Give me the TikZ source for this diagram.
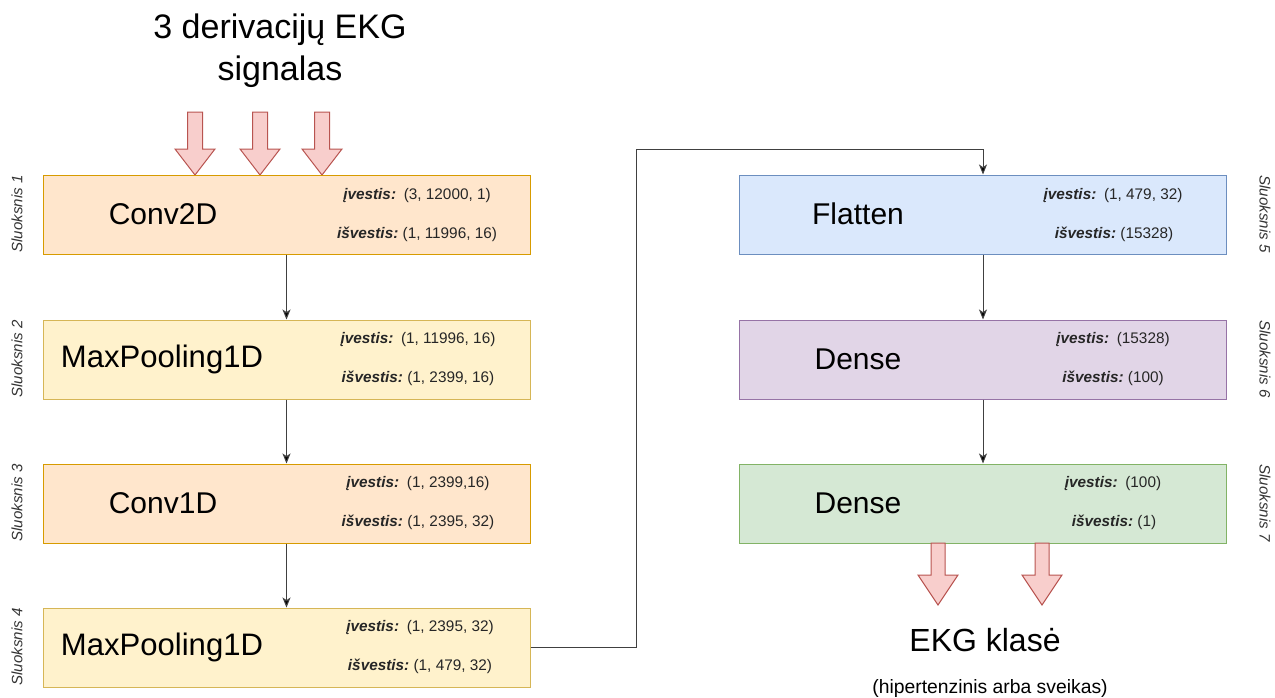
\documentclass[tikz,border=0pt]{standalone}
\usepackage{fontspec}
\setmainfont{Liberation Sans}
\usepackage{xcolor}
\usetikzlibrary{arrows.meta}

\definecolor{convfill}{HTML}{FFE6CC}
\definecolor{convline}{HTML}{D79B00}
\definecolor{poolfill}{HTML}{FFF2CC}
\definecolor{poolline}{HTML}{D6B656}
\definecolor{flatfill}{HTML}{DAE8FC}
\definecolor{flatline}{HTML}{6C8EBF}
\definecolor{densefill}{HTML}{E1D5E7}
\definecolor{denseline}{HTML}{9673A6}
\definecolor{outfill}{HTML}{D5E8D4}
\definecolor{outline}{HTML}{82B366}
\definecolor{arrfill}{HTML}{F8CECC}
\definecolor{arrline}{HTML}{B85450}

\tikzset{
  layer/.style={rectangle, minimum width=365.25pt, minimum height=59.25pt, inner sep=0pt, line width=0.75pt},
  lname/.style={font=\fontsize{22.5}{27}\selectfont, inner sep=0.75pt},
  io/.style={font=\fontsize{11.5}{14}\selectfont, inner sep=0.75pt, text=black!85},
  side/.style={font=\fontsize{11.3}{13}\itshape, inner sep=0.75pt, text=black!80},
  link/.style={draw=black!75, line width=0.75pt, -{Stealth[length=7.5pt,width=6pt,inset=2pt,fill=black]}},
  bigarrow/.style={fill=arrfill, draw=arrline, line width=0.75pt, line join=miter}
}
\newcommand{\inp}{\textbf{\textit{įvestis:}}\enspace}
\newcommand{\outp}{\textbf{\textit{išvestis:}}\ }

\begin{document}
\begin{tikzpicture}[x=0.75pt,y=0.75pt,yscale=-1,xscale=1]
\path[use as bounding box] (0,0) rectangle (1275,697);

% Text Node
\node[lname, align=center, font=\fontsize{25.5}{31.5}\selectfont] (title) at (280,51) {3 derivacijų EKG\\signalas};

%Shape: Down Arrow [in 1]
\draw[bigarrow] (187.5,112) -- (202.5,112) -- (202.5,149) -- (215,149) -- (195,175) -- (175,149) -- (187.5,149) -- cycle ;
%Shape: Down Arrow [in 2]
\draw[bigarrow] (252.5,112) -- (267.5,112) -- (267.5,149) -- (280,149) -- (260,175) -- (240,149) -- (252.5,149) -- cycle ;
%Shape: Down Arrow [in 3]
\draw[bigarrow] (314.5,112) -- (329.5,112) -- (329.5,149) -- (342,149) -- (322,175) -- (302,149) -- (314.5,149) -- cycle ;

%Left column
\node[layer, fill=convfill, draw=convline] (lay1) at (286.5,214.5) {};
\node[layer, fill=poolfill, draw=poolline] (lay2) at (286.5,359.5) {};
\node[layer, fill=convfill, draw=convline] (lay3) at (286.5,503.5) {};
\node[layer, fill=poolfill, draw=poolline] (lay4) at (286.5,647.5) {};

%Right column
\node[layer, fill=flatfill, draw=flatline] (lay5) at (983,214.5) {};
\node[layer, fill=densefill, draw=denseline] (lay6) at (983,359.5) {};
\node[layer, fill=outfill, draw=outline] (lay7) at (983,503.5) {};

% Layer names
\node[lname] (n1) at (163,214) {Conv2D};
\node[lname, font=\fontsize{23.3}{27}\selectfont] (n2) at (162,359) {MaxPooling1D};
\node[lname] (n3) at (163,503) {Conv1D};
\node[lname, font=\fontsize{23.3}{27}\selectfont] (n4) at (162,647) {MaxPooling1D};
\node[lname] (n5) at (858,214) {Flatten};
\node[lname] (n6) at (858,359) {Dense};
\node[lname] (n7) at (858,503) {Dense};

% Shapes in / out
\node[io] (i1) at (417,196) {\inp(3, 12000, 1)};
\node[io] (o1) at (417,234) {\outp(1, 11996, 16)};
\node[io] (i2) at (418,340) {\inp(1, 11996, 16)};
\node[io] (o2) at (418,378) {\outp(1, 2399, 16)};
\node[io] (i3) at (418,484) {\inp(1, 2399,16)};
\node[io] (o3) at (418,522) {\outp(1, 2395, 32)};
\node[io] (i4) at (420,628) {\inp(1, 2395, 32)};
\node[io] (o4) at (420,666) {\outp(1, 479, 32)};
\node[io] (i5) at (1113,196) {\inp(1, 479, 32)};
\node[io] (o5) at (1114,234) {\outp(15328)};
\node[io] (i6) at (1113,340) {\inp(15328)};
\node[io] (o6) at (1113,378) {\outp(100)};
\node[io] (i7) at (1113,484) {\inp(100)};
\node[io] (o7) at (1114,522) {\outp(1)};

% Side labels
\node[side, rotate=90] (s1) at (17,214) {Sluoksnis 1};
\node[side, rotate=90] (s2) at (17,359) {Sluoksnis 2};
\node[side, rotate=90] (s3) at (17,503) {Sluoksnis 3};
\node[side, rotate=90] (s4) at (17,647) {Sluoksnis 4};
\node[side, rotate=-90] (s5) at (1265,214) {Sluoksnis 5};
\node[side, rotate=-90] (s6) at (1265,359) {Sluoksnis 6};
\node[side, rotate=-90] (s7) at (1265,503) {Sluoksnis 7};

% Connectors
\draw[link] (lay1) -- (lay2);
\draw[link] (lay2) -- (lay3);
\draw[link] (lay3) -- (lay4);
\coordinate (turn) at (636,149);
\draw[link] (lay4.east) -| (turn) -| (lay5.north);
\draw[link] (lay5) -- (lay6);
\draw[link] (lay6) -- (lay7);

%Shape: Down Arrow [out 1]
\draw[bigarrow] (931,543) -- (945,543) -- (945,575) -- (958,575) -- (938,605) -- (918,575) -- (931,575) -- cycle ;
%Shape: Down Arrow [out 2]
\draw[bigarrow] (1035,543) -- (1049,543) -- (1049,575) -- (1062,575) -- (1042,605) -- (1022,575) -- (1035,575) -- cycle ;

% Text Node
\node[lname, font=\fontsize{24}{28}\selectfont] (cls) at (985,640) {EKG klasė};
% Text Node
\node[lname, font=\fontsize{14.5}{17}\selectfont] (clsnote) at (990,688) {(hipertenzinis arba sveikas)};

\end{tikzpicture}
\end{document}
